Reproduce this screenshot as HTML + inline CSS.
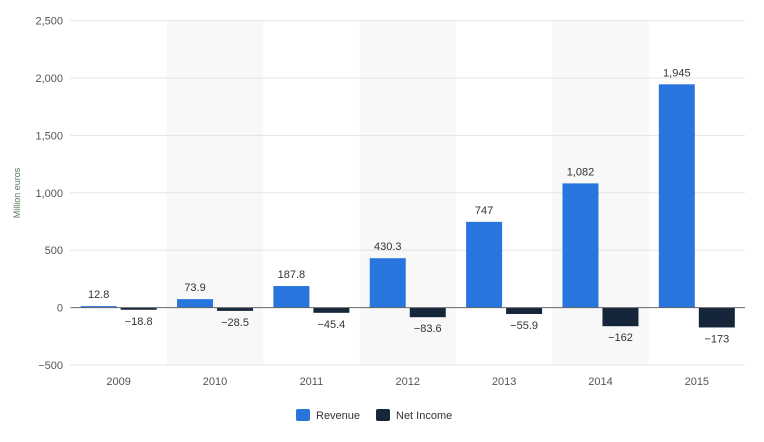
<!DOCTYPE html>
<html><head><meta charset="utf-8"><style>
body{margin:0;background:#fff;font-family:"Liberation Sans",Arial,sans-serif}
svg text{font-family:"Liberation Sans",Arial,sans-serif}
</style></head><body>
<svg id="c" width="764" height="437" xmlns="http://www.w3.org/2000/svg"></svg>
<script>
const categories=["2009","2010","2011","2012","2013","2014","2015"];
const revenue=[12.8,73.9,187.8,430.3,747,1082,1945];
const netIncome=[-18.8,-28.5,-45.4,-83.6,-55.9,-162,-173];
const revenueLabels=["12.8","73.9","187.8","430.3","747","1,082","1,945"];
const netLabels=["\u221218.8","\u221228.5","\u221245.4","\u221283.6","\u221255.9","\u2212162","\u2212173"];
const yTicks=[-500,0,500,1000,1500,2000,2500];
const yTickLabels=["\u2212500","0","500","1,000","1,500","2,000","2,500"];
const NS="http://www.w3.org/2000/svg";
const svg=document.getElementById('c');
const x0=70.5,x1=745,yTop=20.6,yBot=365,vMin=-500,vMax=2500;
const step=(x1-x0)/categories.length;
const y=v=>yBot-(v-vMin)/(vMax-vMin)*(yBot-yTop);
const xc=i=>x0+step*(i+0.5);
function el(t,a,txt){const e=document.createElementNS(NS,t);for(const k in a)e.setAttribute(k,a[k]);if(txt!=null)e.textContent=txt;svg.appendChild(e);return e;}
categories.forEach((c,i)=>{if(i%2===1){const r=el('rect',{x:x0+step*i,y:yTop,width:step,height:yBot-yTop,fill:'#f8f8f8'});

}});
yTicks.forEach((t,i)=>{
if(t!==0){const l=el('line',{x1:x0,x2:x1,y1:y(t),y2:y(t),stroke:'#ccc','stroke-dasharray':'1,1'});

}
const tx=el('text',{x:63,y:y(t)+4,'text-anchor':'end','font-size':11,fill:'#555'},yTickLabels[i]);

});
const yt=el('text',{x:20,y:193,'text-anchor':'middle','font-size':9,fill:'#5a7a5a',transform:'rotate(-90 20 193)'},'Million euros');


categories.forEach((c,i)=>{
const cx=xc(i);
const r=revenue[i],n=netIncome[i];
const b1=el('rect',{x:cx-38,y:y(r),width:36,height:y(0)-y(r),fill:'#2876dd'});


const b2=el('rect',{x:cx+2,y:y(0),width:36,height:y(n)-y(0),fill:'#15263a'});


const l1=el('text',{x:cx-20,y:y(r)-8,'text-anchor':'middle','font-size':11,fill:'#333'},revenueLabels[i]);


const l2=el('text',{x:cx+20,y:y(n)+15,'text-anchor':'middle','font-size':11,fill:'#333'},netLabels[i]);


const xl=el('text',{x:cx,y:385,'text-anchor':'middle','font-size':11,fill:'#555'},c);

});
const z=el('line',{x1:x0,x2:x1,y1:y(0),y2:y(0),stroke:'#666','stroke-width':1});


const lg1=el('rect',{x:296,y:409,width:14,height:12,rx:2,fill:'#2876dd'});


const lt1=el('text',{x:316,y:419,'font-size':11,fill:'#333'},'Revenue');


const lg2=el('rect',{x:376,y:409,width:14,height:12,rx:2,fill:'#15263a'});


const lt2=el('text',{x:396,y:419,'font-size':11,fill:'#333'},'Net Income');


</script>
</body></html>
